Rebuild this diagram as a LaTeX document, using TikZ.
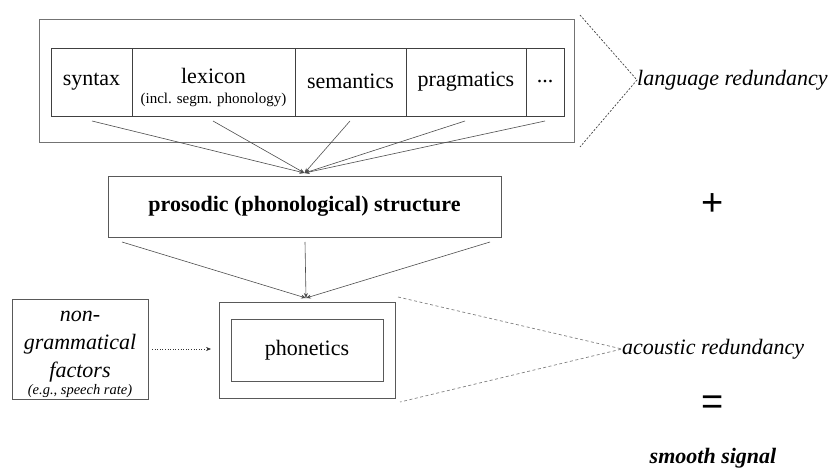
\documentclass[tikz,border=0pt]{standalone}
\usepackage{fontspec}
\setmainfont{Liberation Serif}
\newfontfamily\opfont{Liberation Sans}
\usetikzlibrary{arrows.meta}

\begin{document}
\begin{tikzpicture}[x=1pt,y=-1pt,
  txt/.style={font=\fontsize{22}{26}\selectfont},
  cell/.style={draw=black!75, line width=0.8pt, minimum height=68pt, inner sep=0pt, txt},
  frame/.style={draw=black!55, line width=1pt, inner sep=0pt},
  box/.style={draw=black!65, line width=0.9pt, inner sep=0pt, txt},
  feed/.style={draw=black!70, line width=0.6pt, -{Stealth[length=5pt,width=4pt]}},
  dotarrow/.style={draw=black!80, line width=0.6pt, dotted, -{Stealth[length=5pt,width=4pt]}},
  bracket/.style={draw=black!75, line width=0.7pt, dash pattern=on 2pt off 1.6pt},
  bracketlight/.style={draw=black!50, line width=0.7pt, dash pattern=on 3pt off 2.5pt},
  label/.style={font=\itshape\fontsize{22}{26}\selectfont, inner sep=0pt},
  opsign/.style={font=\opfont\fontsize{38}{40}\selectfont, inner sep=0pt}
]
\useasboundingbox (0,0) rectangle (831,468);

% language components
\node[frame, minimum width=535pt, minimum height=123pt] (lang) at (306.5,81.5) {};
\node[cell, minimum width=81pt]  (syn)  at (91.5,82)  {\raisebox{1.5pt}{syntax}};
\node[cell, minimum width=163pt] (lex) at (213.5,82) {};
\node[txt, align=center, inner sep=0pt] (lextxt) at (213.5,87)
  {lexicon\\[-6pt]{\fontsize{15}{17}\selectfont (incl. segm. phonology)}};
\node[cell, minimum width=111pt] (sem)  at (350.5,82) {\raisebox{1.5pt}{semantics}};
\node[cell, minimum width=120pt] (prag) at (466,82)   {\raisebox{1.5pt}{pragmatics}};
\node[cell, minimum width=38pt]  (etc)  at (545,82)   {\raisebox{1.5pt}{...}};

% prosodic structure
\node[box, minimum width=393pt, minimum height=61pt, font=\bfseries\fontsize{22}{26}\selectfont] (pros) at (304.5,206.5) {prosodic (phonological) structure};

% phonetics
\node[box, minimum width=176pt, minimum height=96pt] (phonout) at (307,350) {};
\node[box, minimum width=152pt, minimum height=62pt] (phon) at (307,350) {phonetics};

% non-grammatical factors
\node[box, minimum width=136pt, minimum height=100pt] (ngf) at (80,349) {};
\node[inner sep=0pt, align=center, font=\itshape\fontsize{22}{26}\selectfont] (ngftxt) at (80,354)
  {non-\\[2pt]grammatical\\[2pt]factors\\[-9pt]{\fontsize{14.5}{16}\selectfont (e.g., speech rate)}};

% coordinates of the connector ends
\coordinate (a1) at (92,121);
\coordinate (a2) at (213,121);
\coordinate (a3) at (350,121);
\coordinate (a4) at (465,121);
\coordinate (a5) at (545,121);
\coordinate (ptop) at (304.5,173);
\coordinate (b1) at (122,242);
\coordinate (b2) at (305,242);
\coordinate (b3) at (490,242);
\coordinate (phtop) at (306,298);
\coordinate (ng1) at (152,349);
\coordinate (ng2) at (211,349);

\foreach \s in {a1,a2,a3,a4,a5} \draw[feed] (\s) -- (ptop);
\foreach \s in {b1,b2,b3} \draw[feed] (\s) -- (phtop);
\draw[dotarrow] (ng1) -- (ng2);

% redundancy labels
\node[label, anchor=west] (langred) at (637,80) {language redundancy};
\coordinate (lt) at (580,15);
\coordinate (lb) at (580,147);
\draw[bracket] (lt) -- (langred.west) -- (lb);

\node[label, anchor=west] (acred) at (622,349) {acoustic redundancy};
\coordinate (at) at (398,297);
\coordinate (ab) at (400,402);
\draw[bracketlight] (at) -- (acred.west) -- (ab);

\node[opsign] (plus) at (713,205) {+};
\node[opsign] (eq) at (713,405) {=};
\node[font=\bfseries\itshape\fontsize{22}{26}\selectfont, inner sep=0pt] (smooth) at (713,458) {smooth signal};
\end{tikzpicture}
\end{document}
